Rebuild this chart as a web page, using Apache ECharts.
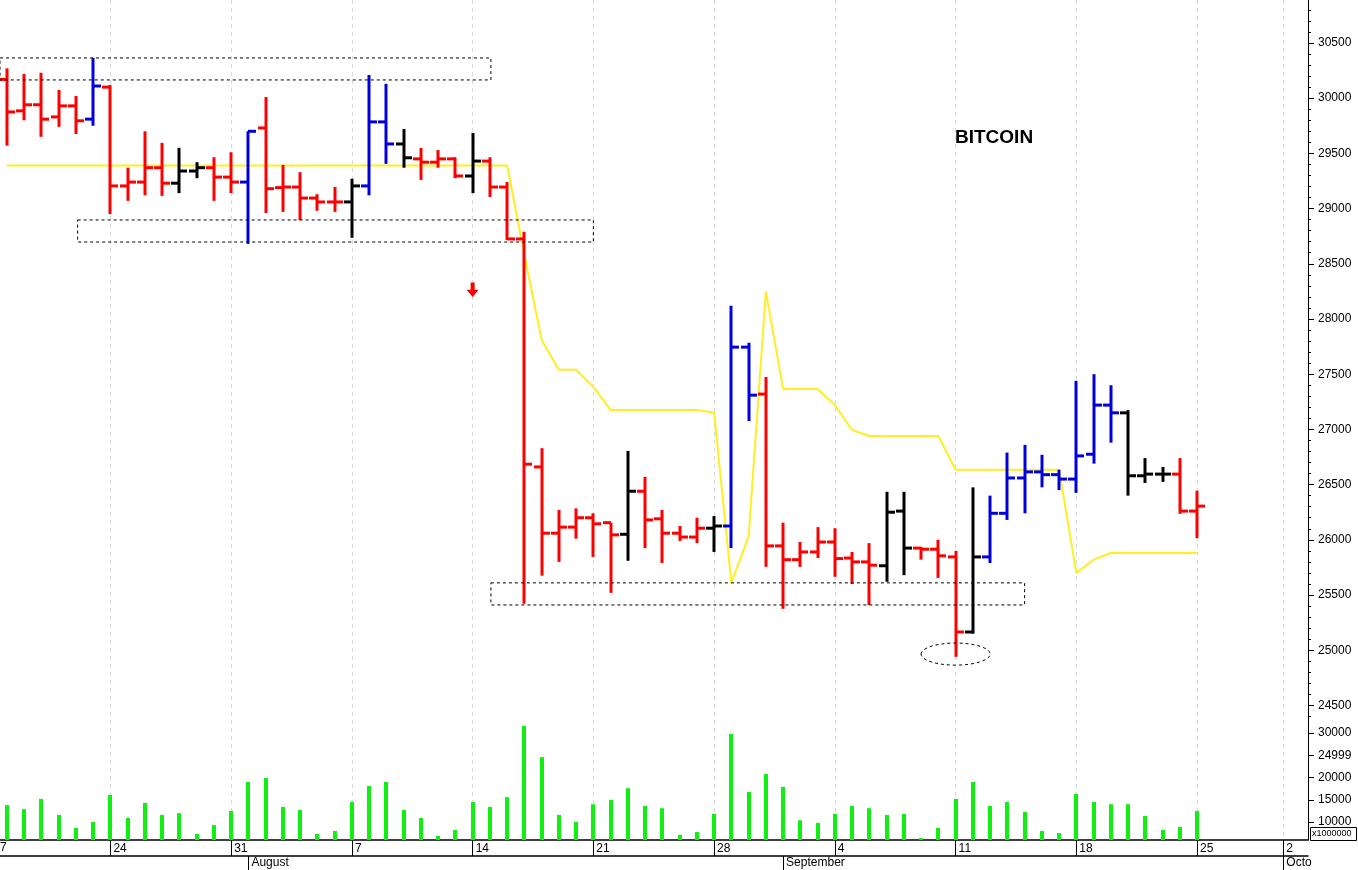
<!DOCTYPE html>
<html><head><meta charset="utf-8">
<script src="https://cdn.jsdelivr.net/npm/echarts@6/dist/echarts.min.js"></script>
<style>html,body{margin:0;padding:0;background:#fff}#c{width:1358px;height:870px}</style>
</head><body><div id="c"></div>
<script>
// day index 0 = Jul 18
const openP = [30170,29885,29940,29830,29930,29810,30100,29205,29240,29370,29230,29340,29370,29285,29240,29730,29190,29195,29095,29060,29060,29205,29785,29585,29450,29420,29450,29295,29430,29195,28725,26660,26060,26115,26200,26155,26050,26440,26190,26060,26025,26105,26125,27745,27320,25945,25820,25890,25980,25835,25800,25765,26260,25925,25915,25845,25165,25845,26240,26560,26615,26590,26550,26775,27220,27150,26580,26595,26595,26260];
const highP = [30270,30220,30230,30075,30020,30365,30120,29370,29700,29595,29550,29420,29465,29510,29700,30010,29395,29330,29130,29195,29270,30210,30130,29720,29550,29530,29465,29685,29465,29240,28790,26830,26270,26285,26240,26155,26805,26570,26270,26125,26200,26215,28120,27785,27475,26155,25980,26115,26105,25890,25970,26435,26435,25935,26000,25900,26475,26400,26790,26860,26770,26635,27440,27500,27400,27175,26740,26660,26740,26445];
const lowP = [29570,29800,29650,29740,29675,29750,28950,29070,29120,29115,29140,29275,29070,29140,28680,28960,28970,28895,28980,28970,28735,29120,29405,29370,29260,29370,29275,29140,29105,28715,25420,25675,25800,26010,25845,25520,25810,25925,25790,25990,25970,25890,25925,27075,25755,25375,25755,25835,25665,25600,25410,25620,25680,25820,25655,24940,25150,25790,26180,26240,26475,26450,26425,26690,26880,26400,26515,26525,26235,26015];
const closeP = [29875,29940,29810,29930,29795,30110,29205,29240,29370,29230,29340,29370,29285,29240,29700,29180,29195,29095,29060,29060,29205,29785,29585,29460,29420,29450,29295,29430,29195,28725,26685,26060,26115,26200,26145,26045,26440,26180,26060,26025,26105,26125,27745,27310,25945,25820,25890,25980,25830,25800,25770,26250,25925,25915,25855,25165,25845,26240,26560,26615,26590,26550,26760,27220,27150,26580,26595,26595,26260,26305];
// signal: 1 up (blue), -1 down (red), 0 neutral (black)
const signal = [-1,-1,-1,-1,-1,1,-1,-1,-1,-1,0,0,-1,-1,1,-1,-1,-1,-1,-1,0,1,1,0,-1,-1,-1,0,-1,-1,-1,-1,-1,-1,-1,-1,0,-1,-1,-1,-1,0,1,1,-1,-1,-1,-1,-1,-1,-1,0,0,-1,-1,-1,0,1,1,1,1,1,1,1,1,0,0,0,-1,-1];
const stopLine = [29390,29390,29390,29390,29390,29390,29390,29390,29390,29390,29390,29390,29390,29390,29390,29390,29390,29390,29390,29390,29390,29390,29390,29390,29390,29390,29390,29390,29390,29390,28580,27810,27540,27540,27385,27175,27175,27175,27175,27175,27175,27150,25610,26030,28250,27365,27365,27365,27220,26995,26940,26940,26940,26940,26940,26635,26635,26635,26635,26635,26635,26635,25700,25820,25880,25880,25880,25880,25880,25880];
const volume = [13800,12900,15200,11600,8650,10000,16100,10900,14300,11600,12000,7300,9300,12500,19000,19900,13400,12700,7300,8000,14500,18100,19000,12700,10900,6850,8200,14500,13400,15600,31600,24600,11600,10000,14000,15000,17600,13600,13100,7100,7750,11800,29800,16750,20800,17900,10400,9800,11800,13600,13100,11600,11800,6400,8650,15200,19000,13600,14500,12250,8000,7500,16300,14500,14000,14000,11350,8200,8900,12500];
const weekTicks = [6,13,20,27,34,41,48,55,62,69,74];
const weekLabels = ['24','31','7','14','21','28','4','11','18','25','2'];
const monthTicks = [14,45,74];
const monthLabels = ['August','September','Octo'];
const priceTicks = [24500,25000,25500,26000,26500,27000,27500,28000,28500,29000,29500,30000,30500];
const volTicks = [10000,15000,20000,25000,30000];
const volLabels = ['10000','15000','20000','24999','30000'];
const rects = [[-0.4,28.06,30165,30364],[4.1,34.0,28697,28897],[28.06,59.0,25410,25610]];
const ellipse = [53.0,57.0,24865,25065];
const arrow = [27,28330,28200];

const XMIN=-0.4, XMAX=75.43;
const colorOf = s => s>0?'#0000dd':(s<0?'#ff0000':'#000000');
const ohlc = openP.map((o,i)=>[i,o,highP[i],lowP[i],closeP[i],signal[i]]);
const chart = echarts.init(document.getElementById('c'));
const font = 'Liberation Sans, Arial, sans-serif';
const minorPrice=[];for(let v=24400;v<=30800;v+=100)minorPrice.push(v);
chart.setOption({
  animation:false,
  grid:[{left:0,right:50,top:0,height:720},{left:0,right:50,top:720,bottom:30}],
  xAxis:[
    {type:'value',gridIndex:0,min:XMIN,max:XMAX,axisLine:{show:false,onZero:false},axisTick:{show:false,customValues:weekTicks},axisLabel:{show:false,customValues:weekTicks},
     splitLine:{show:true,lineStyle:{color:'#d8d8e0',type:[4,4],width:1}}},
    {type:'value',gridIndex:1,min:XMIN,max:XMAX,axisLine:{onZero:false,lineStyle:{color:'#000',width:1.5}},
     axisTick:{customValues:weekTicks,length:16,lineStyle:{color:'#000'}},
     axisLabel:{customValues:weekTicks,formatter:v=>weekLabels[weekTicks.indexOf(v)]||'',align:'left',padding:[0,0,0,3],margin:3,color:'#000',fontFamily:font,fontSize:12},
     splitLine:{show:true,lineStyle:{color:'#d8d8e0',type:[4,4],width:1}}},
    {type:'value',gridIndex:1,min:XMIN,max:XMAX,position:'bottom',offset:16,axisLine:{onZero:false,lineStyle:{color:'#000',width:1.5}},
     axisTick:{customValues:monthTicks,length:14,lineStyle:{color:'#000'}},
     axisLabel:{customValues:monthTicks,formatter:v=>monthLabels[monthTicks.indexOf(v)]||'',align:'left',padding:[0,0,0,3],margin:1,color:'#000',fontFamily:font,fontSize:12},
     splitLine:{show:false}}
  ],
  yAxis:[
    {type:'value',gridIndex:0,position:'right',min:24368,max:30889,axisLine:{show:true,onZero:false,lineStyle:{color:'#000'}},
     axisTick:{show:true,inside:false,length:6,customValues:priceTicks,lineStyle:{color:'#000'}},
     axisLabel:{customValues:priceTicks,formatter:v=>String(v),color:'#000',fontFamily:font,fontSize:12,margin:10},splitLine:{show:false}},
    {type:'value',gridIndex:0,position:'right',offset:0,min:24368,max:30889,axisLine:{show:false,onZero:false},
     axisTick:{show:true,length:3,customValues:minorPrice,lineStyle:{color:'#000'}},axisLabel:{show:false},splitLine:{show:false}},
    {type:'value',gridIndex:1,position:'right',min:5950,max:32950,axisLine:{show:true,onZero:false,lineStyle:{color:'#000'}},
     axisTick:{show:true,length:6,customValues:volTicks,lineStyle:{color:'#000'}},
     axisLabel:{customValues:volTicks,formatter:v=>volLabels[volTicks.indexOf(v)]||'',color:'#000',fontFamily:font,fontSize:12,margin:10},splitLine:{show:false}}
  ],
  graphic:[
    {type:'text',left:955,top:128,style:{text:'BITCOIN',font:'bold 19px '+font,fill:'#000'}},
    {type:'text',left:0,top:842,style:{text:'7',font:'12px '+font,fill:'#000'}},
    {type:'rect',left:1310,top:827,shape:{width:46,height:13},style:{fill:'#fff',stroke:'#000',lineWidth:1}},
    {type:'text',left:1312,top:829,style:{text:'x1000000',font:'9px '+font,fill:'#000'}}
  ],
  series:[
    {type:'line',xAxisIndex:0,yAxisIndex:0,data:stopLine.map((v,i)=>[i,v]),showSymbol:false,lineStyle:{color:'#ffee22',width:2},z:1},
    {type:'custom',xAxisIndex:0,yAxisIndex:0,z:3,data:ohlc,renderItem:(p,api)=>{
      const i=api.value(0),o=api.coord([i,api.value(1)]),h=api.coord([i,api.value(2)]),l=api.coord([i,api.value(3)]),c=api.coord([i,api.value(4)]);
      const col=colorOf(api.value(5));const x=Math.round(h[0]);const st={stroke:col,lineWidth:3};
      return {type:'group',children:[
        {type:'line',shape:{x1:x,y1:h[1],x2:x,y2:l[1]},style:st},
        {type:'line',shape:{x1:x-8,y1:o[1],x2:x,y2:o[1]},style:st},
        {type:'line',shape:{x1:x,y1:c[1],x2:x+8,y2:c[1]},style:st}]};
    }},
    {type:'custom',xAxisIndex:1,yAxisIndex:2,data:volume.map((v,i)=>[i,v]),renderItem:(p,api)=>{
      const t=api.coord([api.value(0),api.value(1)]),b=api.coord([api.value(0),5950]);
      return {type:'rect',shape:{x:Math.round(t[0])-2,y:t[1],width:4,height:b[1]-t[1]},style:{fill:'#11ee11'}};
    }},
    {type:'custom',xAxisIndex:0,yAxisIndex:0,z:4,data:[0],renderItem:(p,api)=>{
      const ch=[];
      rects.forEach(r=>{const a=api.coord([r[0],r[3]]),b=api.coord([r[1],r[2]]);
        ch.push({type:'rect',shape:{x:a[0],y:a[1],width:b[0]-a[0],height:b[1]-a[1]},style:{fill:'none',stroke:'#000',lineWidth:1,lineDash:[3,3]}});});
      const e1=api.coord([ellipse[0],ellipse[3]]),e2=api.coord([ellipse[1],ellipse[2]]);
      ch.push({type:'ellipse',shape:{cx:(e1[0]+e2[0])/2,cy:(e1[1]+e2[1])/2,rx:(e2[0]-e1[0])/2,ry:(e2[1]-e1[1])/2},style:{fill:'none',stroke:'#000',lineWidth:1,lineDash:[3,3]}});
      const at=api.coord([arrow[0],arrow[1]]),ab=api.coord([arrow[0],arrow[2]]);
      const ax=at[0],ah=ab[1]-at[1];
      ch.push({type:'polygon',shape:{points:[[ax-2,at[1]],[ax+2,at[1]],[ax+2,at[1]+ah*0.5],[ax+6,at[1]+ah*0.5],[ax,ab[1]],[ax-6,at[1]+ah*0.5],[ax-2,at[1]+ah*0.5]]},style:{fill:'#ff0000'}});
      return {type:'group',children:ch};
    }}
  ]
});
</script></body></html>
